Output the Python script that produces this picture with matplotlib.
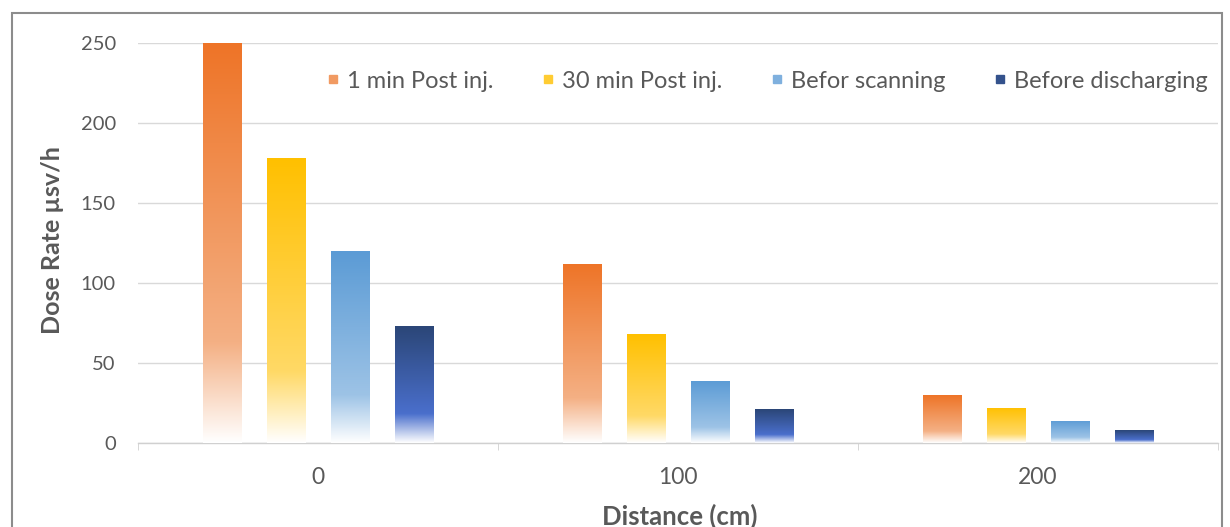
import numpy as np
import matplotlib
matplotlib.use("Agg")
import matplotlib.pyplot as plt
from matplotlib.colors import to_rgb
from matplotlib.patches import Rectangle
from matplotlib.lines import Line2D

categories = ["0", "100", "200"]
series_names = ["1 min Post inj.", "30 min Post inj.", "Befor scanning", "Before discharging"]
one_min = [250, 112, 30]
thirty_min = [178, 68, 22]
before_scan = [120, 39, 14]
before_discharge = [73, 21, 8]
series_values = [one_min, thirty_min, before_scan, before_discharge]
y_ticks = [0, 50, 100, 150, 200, 250]

top_colors = ["#EE7427", "#FFC000", "#5B9BD5", "#2B4677"]
mid_colors = ["#F4B084", "#FFD966", "#9DC3E6", "#4A6FCC"]
legend_colors = ["#F19A62", "#FFCC33", "#7FB0DE", "#34528C"]

plt.rcParams['font.family'] = ['Lato', 'DejaVu Sans']

fig = plt.figure(figsize=(12.3, 5.27), dpi=100)
ax = fig.add_axes([138/1230, 84/527, 1080/1230, 400/527])

x = np.arange(len(categories))
width = 0.106
step = 0.178
offsets = [-1.5*step, -0.5*step, 0.5*step, 1.5*step]

def gradient_img(top, mid, n=256):
    s = np.linspace(0, 1, n)[:, None]  # 0 bottom, 1 top
    t = np.array(to_rgb(top)); m = np.array(to_rgb(mid)); w = np.ones(3)
    img = np.where(s < 0.25, w + (m - w) * (s / 0.25),
                   m + (t - m) * ((s - 0.25) / 0.75))
    return img[:, None, :].repeat(2, axis=1)

for i, vals in enumerate(series_values):
    bars = ax.bar(x + offsets[i], vals, width, facecolor='none', edgecolor='none', zorder=3)
    img = gradient_img(top_colors[i], mid_colors[i])
    for b in bars:
        x0, w_, h = b.get_x(), b.get_width(), b.get_height()
        im = ax.imshow(img, extent=[x0, x0 + w_, 0, h], origin='lower',
                       aspect='auto', zorder=3, interpolation='bilinear')
        im.set_clip_path(b)

ax.set_xlim(-0.5, 2.5)
ax.set_ylim(0, 250)

ax.set_yticks(y_ticks)
ax.yaxis.grid(True, color='#D9D9D9', linewidth=1)
ax.set_axisbelow(True)
for sp in ['top', 'right', 'left']:
    ax.spines[sp].set_visible(False)
ax.spines['bottom'].set_color('#D0D0D0')
ax.spines['bottom'].set_linewidth(1)
ax.tick_params(axis='y', length=0, labelsize=14.5, labelcolor='#595959', pad=16)
ax.set_xticks(x)
ax.set_xticklabels(categories)
ax.tick_params(axis='x', length=0, labelsize=16.5, labelcolor='#595959', pad=17)
ax.set_xticks([-0.5, 0.5, 1.5, 2.5], minor=True)
ax.tick_params(axis='x', which='minor', length=5, color='#D0D0D0')

fig.text(53/1230, 1 - 240/527, "Dose Rate µsv/h", rotation=90, fontsize=18,
         fontweight='bold', color='#595959', ha='center', va='center')
fig.text(680/1230, 1 - 516/527, "Distance (cm)", fontsize=18.5,
         fontweight='bold', color='#595959', ha='center', va='center')

handles = [Line2D([0], [0], marker='s', linestyle='none', markersize=6,
                  markerfacecolor=c, markeredgecolor=c) for c in legend_colors]
ax.legend(handles, series_names, ncol=4, frameon=False, loc='center right',
          bbox_to_anchor=(1208/1230, 1 - 81/527), bbox_transform=fig.transFigure,
          fontsize=17, labelcolor='#595959', borderaxespad=0, borderpad=0,
          handletextpad=0.2, columnspacing=1.9, handlelength=0.8)

fig.patches.append(Rectangle((12/1230, -0.02), 1210/1230, (527-13)/527 + 0.02,
                             transform=fig.transFigure, fill=False,
                             edgecolor='#8C8C8C', linewidth=1.5))

fig.savefig("out.png", dpi=100)
